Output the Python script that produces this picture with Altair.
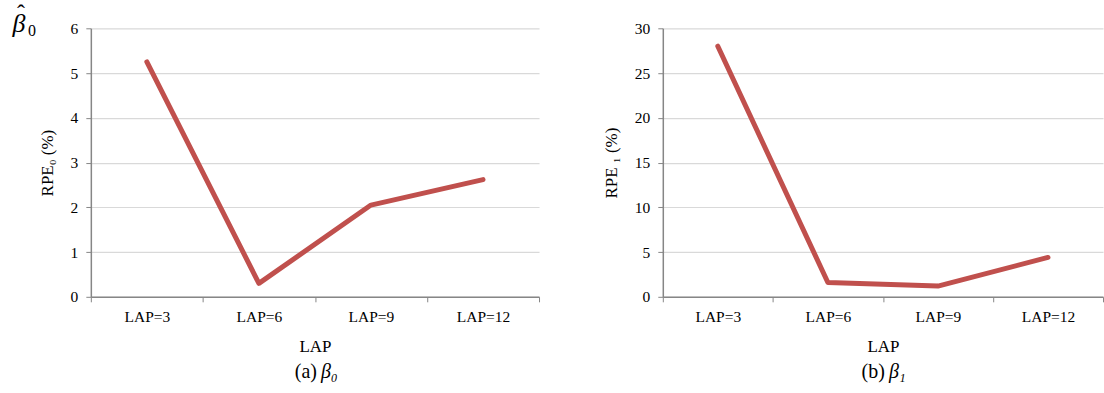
import altair as alt
import pandas as pd

# Category labels and relative parameter errors (%) per LAP setting
laps = ["LAP=3", "LAP=6", "LAP=9", "LAP=12"]
rpe0 = [5.25, 0.3, 2.05, 2.62]
rpe1 = [28.0, 1.6, 1.2, 4.4]

SERIF = "Liberation Serif"
LINE_COLOR = "#c0504d"
H = 269


def panel(values, ymax, ystep, ytitle, width, tag, sym):
    df = pd.DataFrame({"lap": laps, "rpe": values})
    base = alt.Chart(df)
    line = base.mark_line(color=LINE_COLOR, strokeWidth=5, strokeCap="round",
                          strokeJoin="round").encode(
        x=alt.X("lap:N", sort=laps,
                scale=alt.Scale(type="band", paddingInner=0, paddingOuter=0),
                axis=alt.Axis(title="LAP", labelAngle=0, tickBand="extent",
                              grid=False, labelPadding=8, titlePadding=13)),
        y=alt.Y("rpe:Q",
                scale=alt.Scale(domain=[0, ymax], nice=False),
                axis=alt.Axis(title=ytitle,
                              values=list(range(0, ymax + 1, ystep)),
                              labelPadding=8, titlePadding=14)),
    )
    cap_df = pd.DataFrame({"a": [tag], "b": [sym]})
    cap_a = alt.Chart(cap_df).mark_text(
        font=SERIF, fontSize=20, align="right", baseline="middle"
    ).encode(text="a:N", x=alt.value(width / 2 + 2), y=alt.value(H + 75))
    cap_b = alt.Chart(cap_df).mark_text(
        font=SERIF, fontSize=20, fontStyle="italic", align="left",
        baseline="middle"
    ).encode(text="b:N", x=alt.value(width / 2 + 6), y=alt.value(H + 75))
    return alt.layer(line, cap_a, cap_b).properties(width=width, height=H)


left = panel(rpe0, 6, 1, "RPE\u2080 (%)", 449, "(a)", "\u03b2\u2080")
right = panel(rpe1, 30, 5, "RPE \u2081 (%)", 441, "(b)", "\u03b2\u2081")

# Estimated-coefficient symbol beside the first panel: beta, subscript 0 and a hat
sym_df = pd.DataFrame({"b": ["\u03b2"], "s": ["0"], "h": ["\u02c6"]})
beta = alt.Chart(sym_df).mark_text(
    font=SERIF, fontSize=26, fontStyle="italic", align="center",
    baseline="middle"
).encode(text="b:N", x=alt.value(-72), y=alt.value(-4))
sub = alt.Chart(sym_df).mark_text(
    font=SERIF, fontSize=16, align="center", baseline="middle"
).encode(text="s:N", x=alt.value(-59), y=alt.value(3))
hat = alt.Chart(sym_df).mark_text(
    font=SERIF, fontSize=24, align="center", baseline="middle"
).encode(text="h:N", x=alt.value(-70), y=alt.value(-14))
left = alt.layer(left, beta, sub, hat)

chart = alt.hconcat(left, right, spacing=62).configure_view(
    stroke=None
).configure_axis(
    labelFont=SERIF, titleFont=SERIF, labelFontSize=15.5, titleFontSize=17,
    titleFontWeight="normal", labelColor="#000000", titleColor="#000000",
    domainColor="#868686", domainWidth=1.5, tickColor="#868686",
    tickSize=5, gridColor="#d9d9d9", gridWidth=1.2
).properties(
    padding={"left": 12, "top": 2, "right": 0, "bottom": 5},
    background="white"
)

chart.save("out.html", embed_options={"renderer": "svg", "actions": False})
